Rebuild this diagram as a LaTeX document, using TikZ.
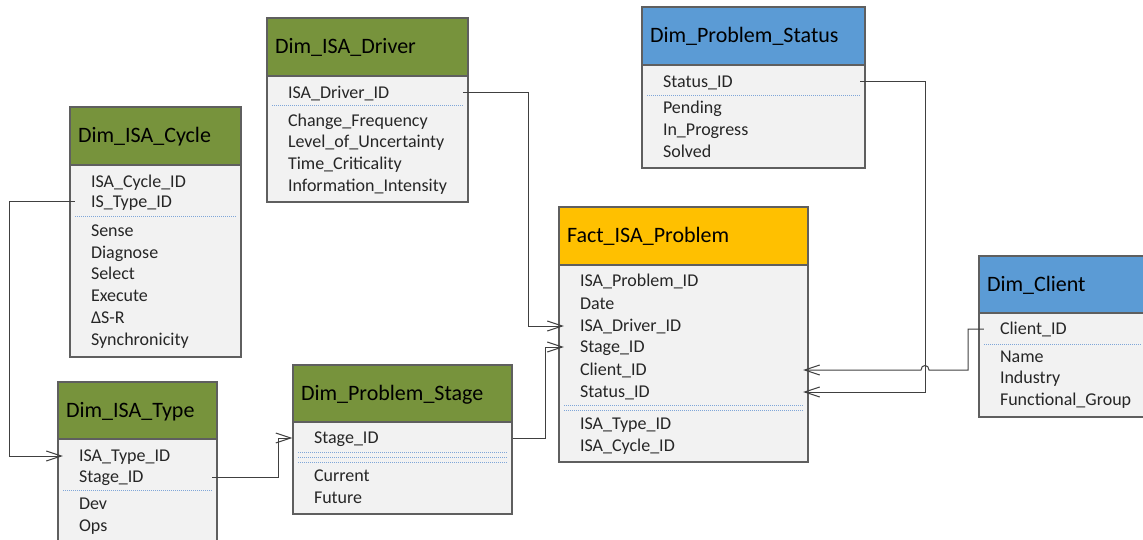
\documentclass[tikz,border=0pt]{standalone}
\usepackage{fontspec}
\setmainfont{Carlito}
\usetikzlibrary{arrows.meta,calc}
\hyphenpenalty=10000
\exhyphenpenalty=10000

\definecolor{hdrgreen}{HTML}{77933C}
\definecolor{hdrgold}{HTML}{FFC000}
\definecolor{hdrblue}{HTML}{5B9BD5}
\definecolor{bodygray}{HTML}{F2F2F2}
\definecolor{framegray}{HTML}{5F5F5F}
\definecolor{linkgray}{HTML}{404040}
\definecolor{sepblue}{HTML}{7FA6D8}
\definecolor{inkdark}{HTML}{262626}

\begin{document}
\begin{tikzpicture}[x=1pt,y=-1pt,
  frame/.style={draw=framegray, line width=1.2pt, fill=bodygray, inner sep=0pt},
  header/.style={draw=framegray, line width=1.2pt, inner ysep=0pt, inner xsep=8pt,
    align=left, text=black, font=\fontsize{22}{26}\selectfont,
    text height=18pt, text depth=4pt},
  row/.style={inner xsep=16pt, inner ysep=0pt, align=left, text=inkdark,
    font=\fontsize{18}{22}\selectfont,
    text height=15.5pt, text depth=4.5pt},
  sepline/.style={draw=sepblue, line width=1pt, dash pattern=on 1pt off 1pt},
  link/.style={draw=linkgray, line width=1pt,
    -{Straight Barb[length=15pt,width=10pt,line width=1pt]}},
]
\useasboundingbox (0,0) rectangle (1143,540);

% ---------- Dim_ISA_Driver ----------
\node[frame, minimum width=201pt, minimum height=184pt] (drv) at (367.5,110) {};
\node[header, fill=hdrgreen, text width=185pt, minimum height=58pt] (drv-h) at (367.5,47) {Dim\_ISA\_Driver};
\node[row, text width=159pt] (drv-id) at (367.5,93) {ISA\_Driver\_ID};
\draw[sepline] (272,106) -- (463,106);
\node[row, text width=159pt] (drv-r1) at (367.5,121) {Change\_Frequency};
\node[row, text width=159pt] (drv-r2) at (367.5,142) {Level\_of\_Uncertainty};
\node[row, text width=159pt] (drv-r3) at (367.5,164) {Time\_Criticality};
\node[row, text width=159pt] (drv-r4) at (367.5,186) {Information\_Intensity};

% ---------- Dim_ISA_Cycle ----------
\node[frame, minimum width=171pt, minimum height=250pt] (cyc) at (155.5,232) {};
\node[header, fill=hdrgreen, text width=155pt, minimum height=58pt] (cyc-h) at (155.5,136) {Dim\_ISA\_Cycle};
\node[row, text width=129pt] (cyc-id) at (155.5,182) {ISA\_Cycle\_ID};
\node[row, text width=129pt] (cyc-type) at (155.5,202) {IS\_Type\_ID};
\draw[sepline] (75,217) -- (236,217);
\node[row, text width=129pt] (cyc-r1) at (155.5,231) {Sense};
\node[row, text width=129pt] (cyc-r2) at (155.5,253) {Diagnose};
\node[row, text width=129pt] (cyc-r3) at (155.5,274) {Select};
\node[row, text width=129pt] (cyc-r4) at (155.5,296) {Execute};
\node[row, text width=129pt] (cyc-r5) at (155.5,318) {ΔS-R};
\node[row, text width=129pt] (cyc-r6) at (155.5,340) {Synchronicity};

% ---------- Dim_ISA_Type ----------
\node[frame, minimum width=159pt, minimum height=170pt] (typ) at (137.5,467) {};
\node[header, fill=hdrgreen, text width=143pt, minimum height=57pt] (typ-h) at (137.5,410.5) {Dim\_ISA\_Type};
\node[row, text width=117pt] (typ-id) at (137.5,456) {ISA\_Type\_ID};
\node[row, text width=117pt] (typ-stage) at (137.5,477) {Stage\_ID};
\draw[sepline] (63,490) -- (212,490);
\node[row, text width=117pt] (typ-r1) at (137.5,504) {Dev};
\node[row, text width=117pt] (typ-r2) at (137.5,526) {Ops};

% ---------- Dim_Problem_Stage ----------
\node[frame, minimum width=219pt, minimum height=149pt] (stg) at (402.5,439.5) {};
\node[header, fill=hdrgreen, text width=203pt, minimum height=57pt] (stg-h) at (402.5,393.5) {Dim\_Problem\_Stage};
\node[row, text width=177pt] (stg-id) at (402.5,438) {Stage\_ID};
\draw[sepline] (298,452) -- (507,452);
\draw[sepline] (298,457) -- (507,457);
\draw[sepline] (298,462) -- (507,462);
\node[row, text width=177pt] (stg-r1) at (402.5,476) {Current};
\node[row, text width=177pt] (stg-r2) at (402.5,498) {Future};

% ---------- Fact_ISA_Problem ----------
\node[frame, minimum width=249pt, minimum height=255pt] (fct) at (683.5,334.5) {};
\node[header, fill=hdrgold, text width=233pt, minimum height=58pt] (fct-h) at (683.5,236) {Fact\_ISA\_Problem};
\node[row, text width=207pt] (fct-id) at (683.5,281) {ISA\_Problem\_ID};
\node[row, text width=207pt] (fct-date) at (683.5,304) {Date};
\node[row, text width=207pt] (fct-drv) at (683.5,326) {ISA\_Driver\_ID};
\node[row, text width=207pt] (fct-stage) at (683.5,347) {Stage\_ID};
\node[row, text width=207pt] (fct-client) at (683.5,370) {Client\_ID};
\node[row, text width=207pt] (fct-status) at (683.5,392) {Status\_ID};
\draw[sepline] (564,405) -- (803,405);
\draw[sepline] (564,410) -- (803,410);
\node[row, text width=207pt] (fct-type) at (683.5,424) {ISA\_Type\_ID};
\node[row, text width=207pt] (fct-cycle) at (683.5,446) {ISA\_Cycle\_ID};

% ---------- Dim_Problem_Status ----------
\node[frame, minimum width=223pt, minimum height=161pt] (sts) at (753.5,87.5) {};
\node[header, fill=hdrblue, text width=207pt, minimum height=58pt] (sts-h) at (753.5,36) {Dim\_Problem\_Status};
\node[row, text width=181pt] (sts-id) at (753.5,82) {Status\_ID};
\draw[sepline] (647,96) -- (860,96);
\node[row, text width=181pt] (sts-r1) at (753.5,108) {Pending};
\node[row, text width=181pt] (sts-r2) at (753.5,130) {In\_Progress};
\node[row, text width=181pt] (sts-r3) at (753.5,152) {Solved};

% ---------- Dim_Client ----------
\node[frame, minimum width=168pt, minimum height=161pt] (cli) at (1063,336.5) {};
\node[header, fill=hdrblue, text width=152pt, minimum height=57pt] (cli-h) at (1063,284.5) {Dim\_Client};
\node[row, text width=126pt] (cli-id) at (1063,329) {Client\_ID};
\draw[sepline] (984,344) -- (1142,344);
\node[row, text width=126pt] (cli-r1) at (1063,357) {Name};
\node[row, text width=126pt] (cli-r2) at (1063,378) {Industry};
\node[row, text width=126pt] (cli-r3) at (1063,400) {Functional\_Group};

% ---------- routing lanes for the key links ----------
\coordinate (laneA) at (9,0);
\coordinate (laneB) at (278,0);
\coordinate (laneC) at (545,0);
\coordinate (laneD) at (528,0);
\coordinate (laneE) at (925,0);
\coordinate (laneF) at (968,0);

% ---------- foreign key links ----------
\draw[link] (cyc-type.west) -- (cyc-type.west -| laneA) |- (typ-id.west);
\draw[link] (typ-stage.east) -- (typ-stage.east -| laneB) |- (stg-id -| stg.west);
\draw[link] (stg-id -| stg.east) -- (stg-id -| laneC) |- (fct-stage.west);
\draw[link] (drv-id.east) -- (drv-id.east -| laneD) |- (fct-drv.west);
\draw[link] (sts-id.east) -- (sts-id.east -| laneE) |- (fct-status.east);
\draw[link] (cli-id.west) -- (cli-id.west -| laneF) -- (fct-client.east -| laneF)
  -- ($(fct-client.east -| laneE)+(4,0)$)
  .. controls +(0,-6) and +(0,-6) .. ($(fct-client.east -| laneE)+(-4,0)$)
  -- (fct-client.east);
\end{tikzpicture}
\end{document}
